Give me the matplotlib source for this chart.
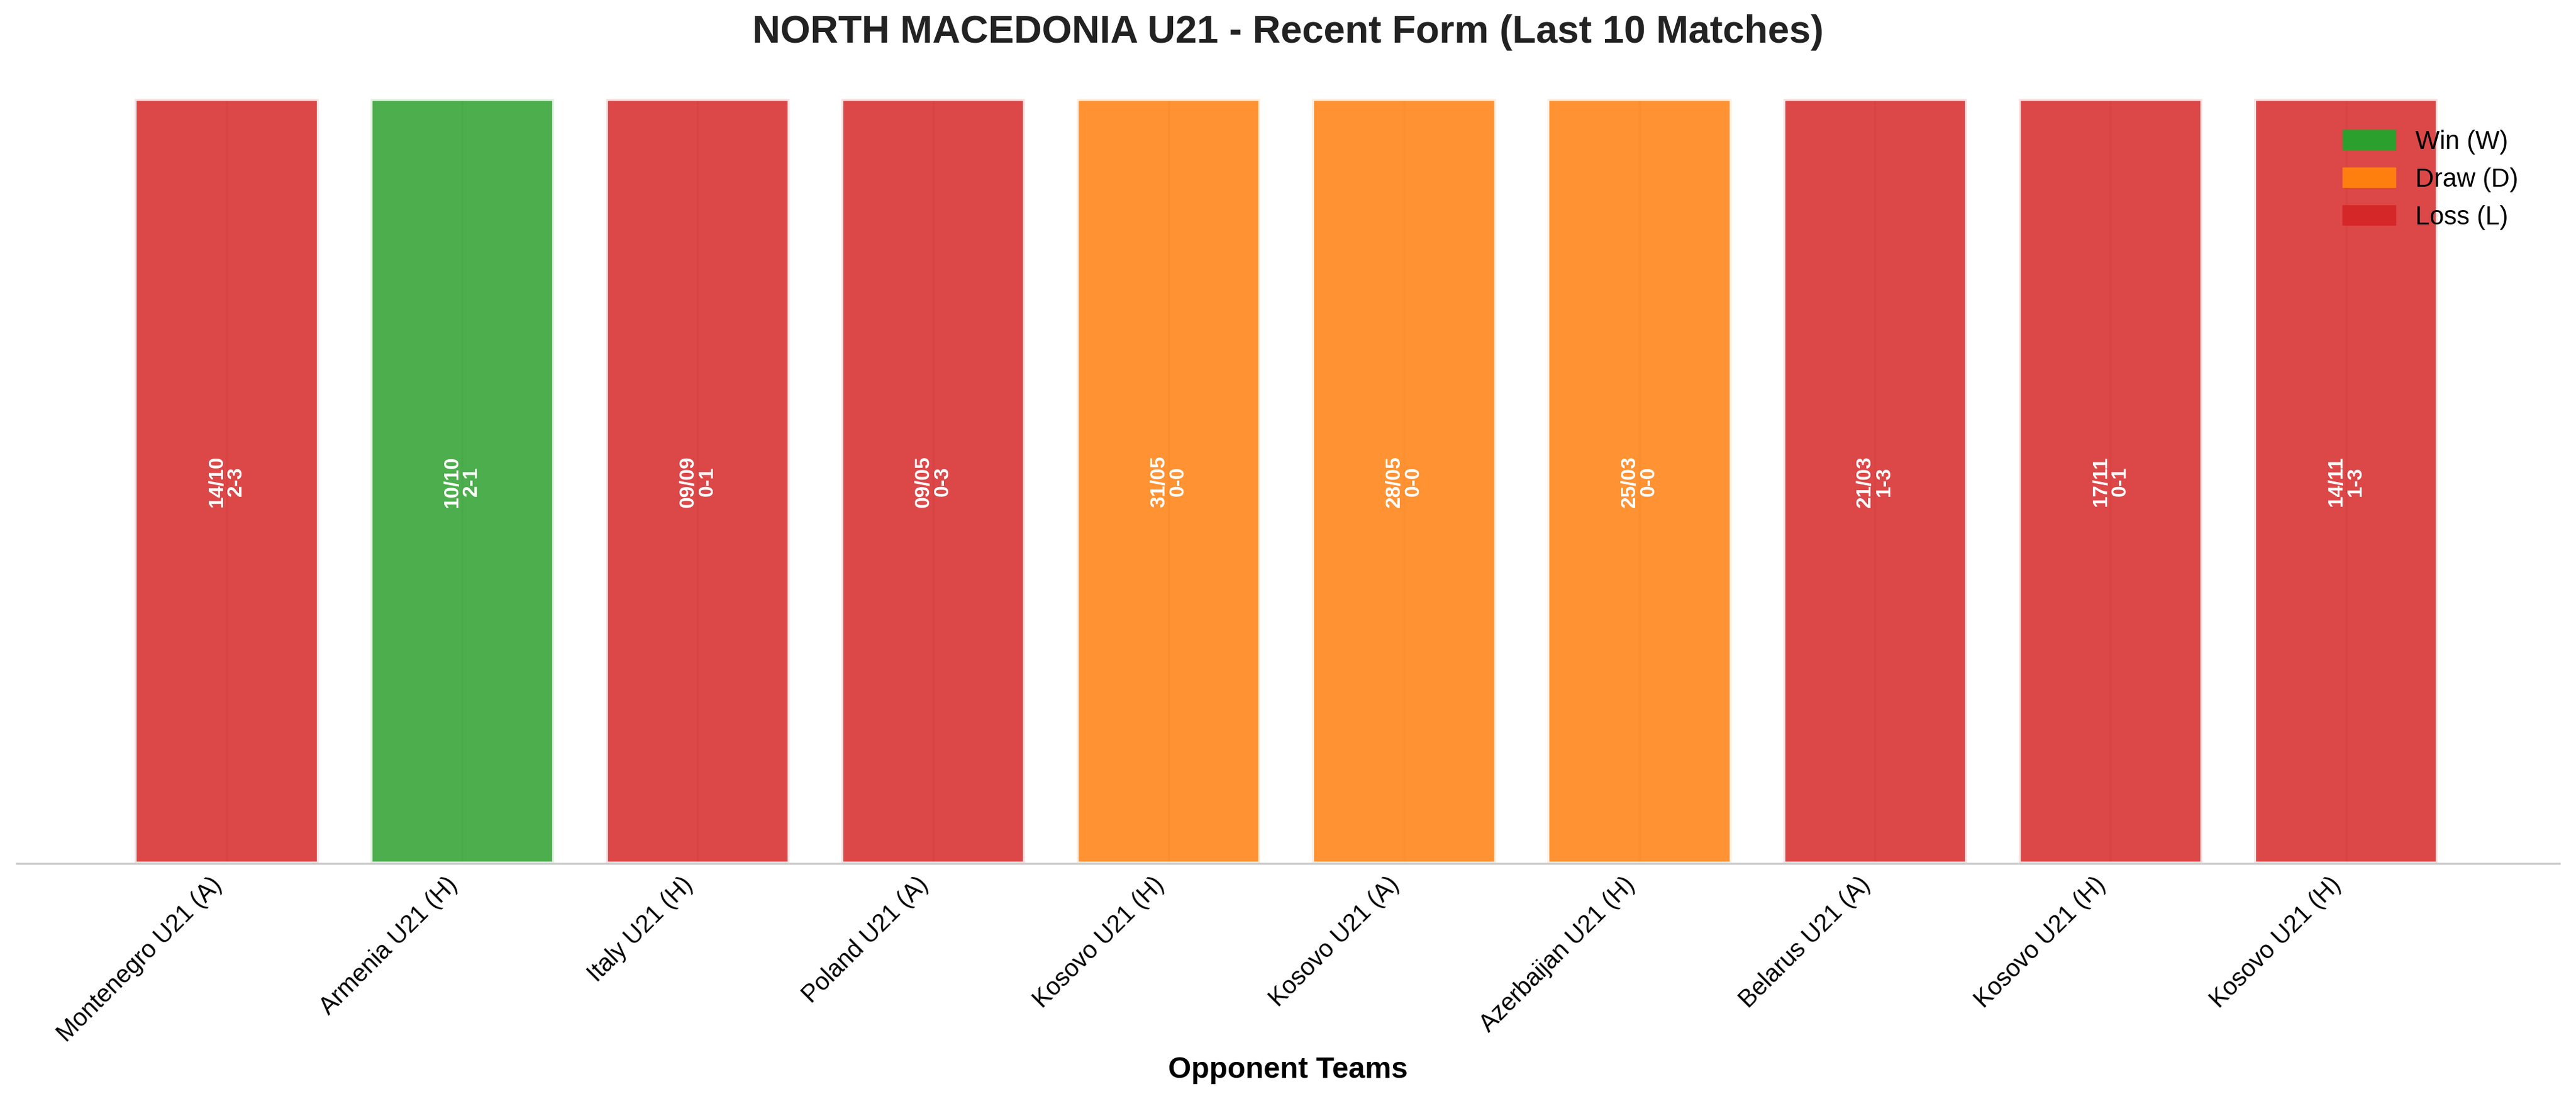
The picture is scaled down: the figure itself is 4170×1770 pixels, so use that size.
import matplotlib
matplotlib.use("Agg")
import matplotlib.pyplot as plt
from matplotlib.patches import Patch

plt.rcParams['font.family'] = ['Liberation Sans', 'DejaVu Sans']

opponents = ["Montenegro U21 (A)", "Armenia U21 (H)", "Italy U21 (H)", "Poland U21 (A)",
             "Kosovo U21 (H)", "Kosovo U21 (A)", "Azerbaijan U21 (H)", "Belarus U21 (A)",
             "Kosovo U21 (H)", "Kosovo U21 (H)"]
results = ["L", "W", "L", "L", "D", "D", "D", "L", "L", "L"]
dates = ["14/10", "10/10", "09/09", "09/05", "31/05", "28/05", "25/03", "21/03", "17/11", "14/11"]
scores = ["2-3", "2-1", "0-1", "0-3", "0-0", "0-0", "0-0", "1-3", "0-1", "1-3"]
colors = {"W": "#2ca02c", "D": "#ff7f0e", "L": "#d62728"}

fig = plt.figure(figsize=(13.9, 5.9), dpi=300)
ax = fig.add_axes([0.0064, 0.2105, 0.9872, 0.699])
x = list(range(len(opponents)))
ax.grid(axis="x", color="#cccccc", linewidth=0.8, alpha=0.5, zorder=3)
ax.bar(x, [1]*len(x), width=0.78, color=[colors[r] for r in results], alpha=0.85,
       edgecolor="white", linewidth=1.5, zorder=2)
for i in x:
    ax.text(i, 0.5, f"{dates[i]}\n{scores[i]}", rotation=90, ha="center", va="center",
            color="white", fontsize=8, fontweight="bold", zorder=4, linespacing=1.0)
ax.set_xlim(-0.893, 9.907)
ax.set_ylim(0, 1.0)
ax.set_yticks([])
ax.set_xticks(x)
ax.set_xticklabels(opponents, rotation=45, ha="right", fontsize=9.5)
ax.tick_params(axis="x", length=0)
for s in ["top", "right", "left"]:
    ax.spines[s].set_visible(False)
ax.spines["bottom"].set_color("#cccccc")
ax.set_xlabel("Opponent Teams", fontsize=11.5, fontweight="bold")
ax.set_title("NORTH MACEDONIA U21 - Recent Form (Last 10 Matches)", fontsize=15,
             fontweight="bold", pad=22, color="#222222")
handles = [Patch(color=colors["W"], label="Win (W)"), Patch(color=colors["D"], label="Draw (D)"),
           Patch(color=colors["L"], label="Loss (L)")]
ax.legend(handles=handles, loc="upper right", frameon=False, fontsize=10,
          bbox_to_anchor=(0.993, 0.99))
fig.savefig("out.png", dpi=300, facecolor="white")
